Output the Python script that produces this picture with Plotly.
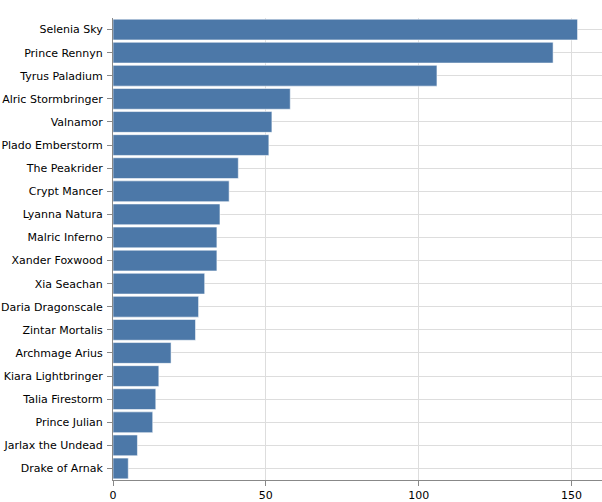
import plotly.graph_objects as go

names = ["Selenia Sky", "Prince Rennyn", "Tyrus Paladium", "Alric Stormbringer", "Valnamor",
         "Plado Emberstorm", "The Peakrider", "Crypt Mancer", "Lyanna Natura", "Malric Inferno",
         "Xander Foxwood", "Xia Seachan", "Daria Dragonscale", "Zintar Mortalis", "Archmage Arius",
         "Kiara Lightbringer", "Talia Firestorm", "Prince Julian", "Jarlax the Undead", "Drake of Arnak"]
values = [152, 144, 106, 58, 52, 51, 41, 38, 35, 34, 34, 30, 28, 27, 19, 15, 14, 13, 8, 5]
x_ticks = [0, 50, 100, 150]

fig = go.Figure(go.Bar(
    x=values, y=names, orientation="h",
    marker=dict(color="#4c78a8", line=dict(color="rgba(255,255,255,0.55)", width=1)),
))

fig.update_layout(
    width=602, height=502,
    margin=dict(l=113, r=0, t=18, b=20),
    plot_bgcolor="white", paper_bgcolor="white",
    bargap=0.1, showlegend=False,
    font=dict(family="DejaVu Sans", size=11, color="#000"),
)
fig.update_xaxes(
    range=[0, 160], tickvals=x_ticks, showgrid=True, gridcolor="#ddd", gridwidth=1,
    showline=True, linecolor="#888", linewidth=1, ticks="outside", ticklen=5,
    tickcolor="#888", zeroline=False, tickfont=dict(size=11),
)
fig.update_yaxes(
    autorange="reversed", showgrid=True, gridcolor="#ddd", gridwidth=1,
    showline=True, linecolor="#888", linewidth=1, ticks="outside", ticklen=5,
    tickcolor="#888", tickfont=dict(size=11), ticklabelstandoff=2,
)

fig.write_html("out.html")
